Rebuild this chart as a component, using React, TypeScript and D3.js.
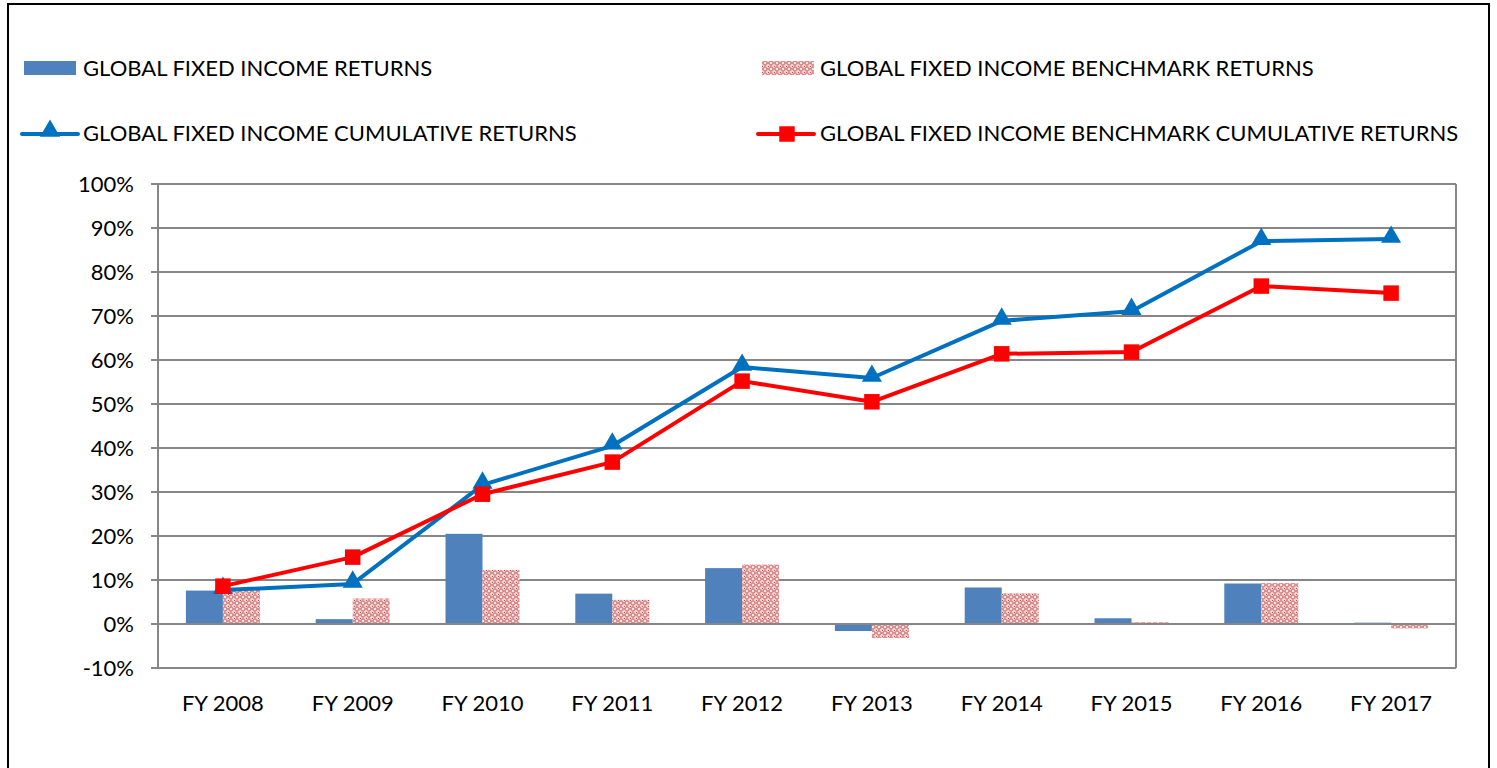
import React from "react";
import * as d3 from "d3";

const categories = ["FY 2008", "FY 2009", "FY 2010", "FY 2011", "FY 2012", "FY 2013", "FY 2014", "FY 2015", "FY 2016", "FY 2017"];
const returns = [7.6, 1.1, 20.5, 6.9, 12.7, -1.6, 8.3, 1.3, 9.2, 0.3];
const benchmarkReturns = [7.9, 5.8, 12.3, 5.5, 13.5, -3.2, 7.0, 0.4, 9.3, -1.0];
const cumulative = [7.7, 9.1, 31.6, 40.5, 58.4, 55.9, 68.9, 71.1, 87.0, 87.5];
const benchmarkCumulative = [8.6, 15.2, 29.5, 36.8, 55.2, 50.5, 61.4, 61.8, 76.8, 75.2];
const yTicks = [-10, 0, 10, 20, 30, 40, 50, 60, 70, 80, 90, 100];
const legendLabels = [
  "GLOBAL FIXED INCOME RETURNS",
  "GLOBAL FIXED INCOME BENCHMARK RETURNS",
  "GLOBAL FIXED INCOME CUMULATIVE RETURNS",
  "GLOBAL FIXED INCOME BENCHMARK CUMULATIVE RETURNS",
];

const W = 1497;
const H = 768;
const FONT = "Lato, 'Open Sans', sans-serif";
const BLUE_BAR = "#4F81BD";
const PINK = "#C0504D";
const LINE_BLUE = "#0070C0";
const LINE_RED = "#FF0000";

export default function App() {
  const left = 158, right = 1456, top = 184, bottom = 668;
  const x = d3.scaleBand<string>().domain(categories).range([left, right]).paddingInner(0).paddingOuter(0);
  const y = d3.scaleLinear().domain([-10, 100]).range([bottom, top]);
  const barW = 37;
  const cx = (c: string) => (x(c) as number) + x.bandwidth() / 2;
  const line = d3.line<number>().x((_, i) => cx(categories[i])).y((v) => y(v));
  const tri = d3.symbol().type(d3.symbolTriangle).size(175);
  const sq = d3.symbol().type(d3.symbolSquare).size(240);

  return (
    <svg width={W} height={H} style={{ position: "absolute", left: 0, top: 0, background: "#fff" }} fontFamily={FONT}>
      <defs>
        <pattern id="pinkpat" width="6" height="6" patternUnits="userSpaceOnUse">
          <rect width="6" height="6" fill="#F2CFCE" />
          <path d="M3 0.5 L5.5 3 L3 5.5 L0.5 3 Z" fill="none" stroke={PINK} strokeWidth="1" />
          <rect x="2.3" y="2.3" width="1.4" height="1.4" fill="#fff" />
          <rect x="0" y="0" width="1" height="1" fill={PINK} />
        </pattern>
      </defs>
      <rect x={8} y={4} width={1481} height={H + 10} fill="none" stroke="#000" strokeWidth={2} />

      {/* legend */}
      <rect x={24} y={61} width={52} height={14} fill={BLUE_BAR} />
      <text x={83} y={68} dy="0.35em" fontSize={22} fill="#000">{legendLabels[0]}</text>
      <rect x={762} y={61} width={52} height={14} fill="url(#pinkpat)" />
      <text x={820} y={68} dy="0.35em" fontSize={22} fill="#000">{legendLabels[1]}</text>
      <line x1={22} x2={78} y1={134} y2={134} stroke={LINE_BLUE} strokeWidth={4} strokeLinecap="round" />
      <path d={tri() as string} transform="translate(50,131)" fill={LINE_BLUE} />
      <text x={83} y={133} dy="0.35em" fontSize={22} fill="#000">{legendLabels[2]}</text>
      <line x1={758} x2={814} y1={134} y2={134} stroke={LINE_RED} strokeWidth={4} strokeLinecap="round" />
      <path d={sq() as string} transform="translate(787,134)" fill={LINE_RED} />
      <text x={820} y={133} dy="0.35em" fontSize={22} fill="#000">{legendLabels[3]}</text>

      {/* gridlines */}
      {yTicks.map((t) => (
        <g key={t}>
          <line x1={left - 7} x2={right} y1={y(t)} y2={y(t)} stroke="#868686" strokeWidth={2} />
          <text x={134} y={y(t)} dy="0.35em" textAnchor="end" fontSize={22} fill="#000">{`${t}%`}</text>
        </g>
      ))}
      <line x1={left} x2={left} y1={top} y2={bottom} stroke="#868686" strokeWidth={2} />
      <line x1={right} x2={right} y1={top} y2={bottom} stroke="#868686" strokeWidth={2} />

      {/* bars */}
      {categories.map((c, i) => (
        <g key={c}>
          <rect x={cx(c) - barW} y={y(Math.max(0, returns[i]))} width={barW} height={Math.abs(y(returns[i]) - y(0))} fill={BLUE_BAR} />
          <rect x={cx(c)} y={y(Math.max(0, benchmarkReturns[i]))} width={barW} height={Math.abs(y(benchmarkReturns[i]) - y(0))} fill="url(#pinkpat)" />
        </g>
      ))}
      <line x1={left} x2={right} y1={y(0)} y2={y(0)} stroke="#868686" strokeWidth={2} />

      {/* lines */}
      <path d={line(cumulative) as string} fill="none" stroke={LINE_BLUE} strokeWidth={4} strokeLinejoin="round" />
      <path d={line(benchmarkCumulative) as string} fill="none" stroke={LINE_RED} strokeWidth={4} strokeLinejoin="round" />
      {cumulative.map((v, i) => (
        <path key={"t" + i} d={tri() as string} transform={`translate(${cx(categories[i])},${y(v) - 2})`} fill={LINE_BLUE} />
      ))}
      {benchmarkCumulative.map((v, i) => (
        <path key={"s" + i} d={sq() as string} transform={`translate(${cx(categories[i])},${y(v)})`} fill={LINE_RED} />
      ))}

      {/* x labels */}
      {categories.map((c) => (
        <text key={c} x={cx(c)} y={703} dy="0.35em" textAnchor="middle" fontSize={22} fill="#000">{c}</text>
      ))}
    </svg>
  );
}
